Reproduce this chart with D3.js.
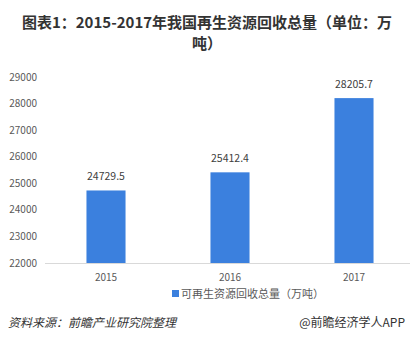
<!DOCTYPE html>
<html><head><meta charset="utf-8">
<script src="https://cdn.jsdelivr.net/npm/d3@7"></script>
<style>body{margin:0;background:#fff;}svg{display:block;font-family:"Noto Sans CJK SC","Noto Sans",sans-serif;}</style>
</head><body><svg id="c" width="414" height="351"></svg>
<script>
const categories = ["2015","2016","2017"];
const values = [24729.5, 25412.4, 28205.7];
const yTicks = [22000,23000,24000,25000,26000,27000,28000,29000];
const titleLines = ["图表1：2015-2017年我国再生资源回收总量（单位：万","吨）"];
const legendLabel = "可再生资源回收总量（万吨）";
const sourceText = "资料来源：前瞻产业研究院整理";
const brandText = "@前瞻经济学人APP";

const svg = d3.select("#c");
const color = "#3b80de";
const x = d3.scalePoint().domain(categories).range([44,416]).padding(0.5);
const y = d3.scaleLinear().domain([22000,29000]).range([263,77]);
const bw = x.step()*0.315;

svg.selectAll("text.title").data(titleLines).join("text")
  .attr("x",207).attr("y",(d,i)=>28+i*21).attr("text-anchor","middle")
  .attr("font-size",15).attr("font-weight","bold").attr("fill","#333").text(d=>d);

svg.append("g").selectAll("text").data(yTicks).join("text")
  .attr("x",37).attr("y",d=>y(d)+3.5).attr("text-anchor","end")
  .attr("font-size",10).attr("fill","#595959").text(d=>d);

svg.append("line").attr("x1",45).attr("x2",410).attr("y1",y(22000)+0.5).attr("y2",y(22000)+0.5)
  .attr("stroke","#d9d9d9").attr("stroke-width",1);

svg.append("g").selectAll("rect").data(values).join("rect")
  .attr("x",(d,i)=>x(categories[i])-bw/2).attr("width",bw)
  .attr("y",d=>y(d)).attr("height",d=>y(22000)-y(d)).attr("fill",color);

svg.append("g").selectAll("text").data(values).join("text")
  .attr("x",(d,i)=>x(categories[i])).attr("y",d=>y(d)-10).attr("text-anchor","middle")
  .attr("font-size",10.5).attr("fill","#404040").text(d=>d.toFixed(1));

svg.append("g").selectAll("text").data(categories).join("text")
  .attr("x",d=>x(d)).attr("y",281).attr("text-anchor","middle")
  .attr("font-size",10).attr("fill","#595959").text(d=>d);

svg.append("rect").attr("x",172).attr("y",290).attr("width",7).attr("height",7).attr("fill",color);
svg.append("text").attr("x",181).attr("y",297.5).attr("font-size",11).attr("fill","#595959").text(legendLabel);

svg.append("text").attr("x",8).attr("y",327).attr("font-size",12).attr("font-style","italic").attr("fill","#333").text(sourceText);
svg.append("text").attr("x",405).attr("y",327).attr("text-anchor","end").attr("font-size",12).attr("fill","#333").text(brandText);
</script></body></html>
